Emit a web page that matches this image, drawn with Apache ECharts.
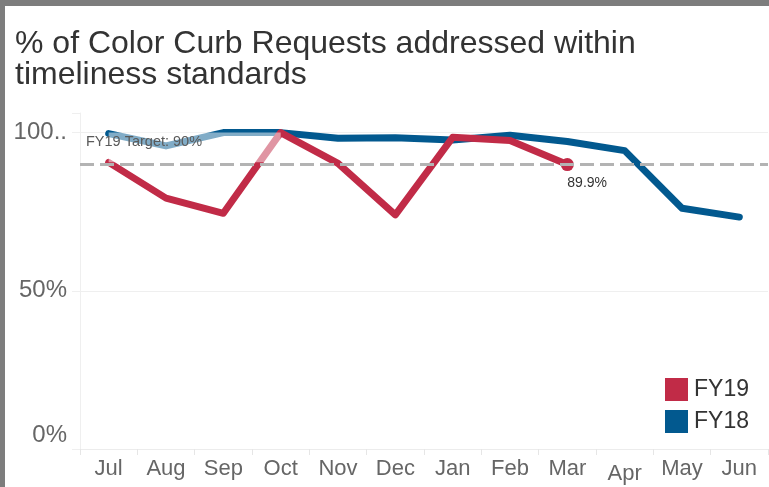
<!DOCTYPE html>
<html><head><meta charset="utf-8">
<script src="https://cdn.jsdelivr.net/npm/echarts@6/dist/echarts.min.js"></script>
<style>html,body{margin:0;padding:0;background:#fff}#c{width:769px;height:487px}</style>
</head><body><div id="c"></div>
<script>
const titleText = '% of Color Curb Requests addressed within\ntimeliness standards';
const months = ['Jul','Aug','Sep','Oct','Nov','Dec','Jan','Feb','Mar','Apr','May','Jun'];
const fy18 = [99.7, 95.8, 100, 100, 98.2, 98.4, 97.7, 99.2, 97.2, 94.3, 76.1, 73.3];
const fy19 = [90.6, 79.3, 74.5, 100, 90.3, 74.0, 98.5, 97.5, 89.9];
const yTickLabels = {0: '0%', 50: '50%', 100: '100..'};
const targetValue = 90;
const targetLabel = 'FY19 Target: 90%';

const FONT = '"Liberation Sans", Arial, sans-serif';
const RED = '#C12B47', BLUE = '#02598F';

const fy19Data = fy19.map((v, i) => i === fy19.length - 1 ? {
  value: v, symbol: 'circle', symbolSize: 13,
  label: {show: true, position: 'bottom', align: 'left', offset: [0, 1], distance: 4,
    formatter: '{c}%', color: '#333', fontSize: 14, fontFamily: FONT}
} : v);

const chart = echarts.init(document.getElementById('c'), null, {renderer: 'canvas'});
chart.setOption({
  animation: false,
  backgroundColor: '#fff',
  title: {text: titleText, left: 10, top: 24,
    textStyle: {fontFamily: FONT, fontSize: 32, fontWeight: 'normal', color: '#333', lineHeight: 31}},
  graphic: [
    {type: 'rect', shape: {x: 0, y: 0, width: 769, height: 6}, style: {fill: '#7d7d7d'}, z: 100},
    {type: 'rect', shape: {x: 0, y: 0, width: 5, height: 487}, style: {fill: '#7d7d7d'}, z: 100}
  ],
  legend: {data: ['FY19', 'FY18'], orient: 'vertical', left: 665, top: 378, icon: 'rect',
    itemWidth: 23, itemHeight: 23, itemGap: 9, padding: 0,
    textStyle: {fontFamily: FONT, fontSize: 23, color: '#333', padding: [0, 0, 0, 1]}},
  grid: {left: 80, right: 1, top: 113, bottom: 38, containLabel: false},
  xAxis: {type: 'category', data: months, boundaryGap: true,
    axisLine: {show: true, lineStyle: {color: '#ececec', width: 1}},
    axisTick: {show: true, alignWithLabel: false, interval: 0, length: 6, lineStyle: {color: '#e6e6e6'}},
    axisLabel: {interval: 0, fontFamily: FONT, fontSize: 22, color: '#666', margin: 9,
      formatter: v => v === 'Apr' ? '{low|' + v + '}' : v,
      rich: {low: {fontFamily: FONT, fontSize: 22, color: '#666', padding: [5, 0, 0, 0]}}},
    splitLine: {show: false}},
  yAxis: {type: 'value', min: 0, max: 106.2, interval: 50,
    axisLine: {show: true, lineStyle: {color: '#efefef'}},
    axisTick: {show: true, inside: false, length: 8, lineStyle: {color: '#efefef'}},
    axisLabel: {fontFamily: FONT, fontSize: 24, color: '#666', margin: 13,
      formatter: v => v === 0 ? '{z|0%}' : (yTickLabels[v] !== undefined ? yTickLabels[v] : ''),
      rich: {z: {fontFamily: FONT, fontSize: 24, color: '#666', padding: [0, 0, 28, 0]}}},
    splitLine: {show: true, lineStyle: {color: ['#ececec', '#efefef', '#efefef', 'rgba(0,0,0,0)'], width: 1}}},
  series: [
    {name: 'FY18', type: 'line', data: fy18, color: BLUE, symbol: 'none', clip: false, z: 2,
      lineStyle: {width: 7, cap: 'round', join: 'round'}},
    {name: 'FY19', type: 'line', data: fy19Data, color: RED, symbol: 'none', clip: false, z: 3,
      lineStyle: {width: 7, cap: 'round', join: 'round'},
      markArea: {silent: true, z: 20, itemStyle: {color: 'rgba(255,255,255,0.5)'},
        data: [[{xAxis: 'Jul', yAxis: 100}, {xAxis: 'Oct', yAxis: 90.6}]]}},
    {name: 'target', type: 'line', data: [], z: 5, silent: true,
      markLine: {silent: true, symbol: 'none', z: 30,
        lineStyle: {type: [14, 6], color: '#b3b3b3', width: 3},
        label: {show: true, position: 'insideStartTop', distance: [6, 15], formatter: targetLabel,
          fontFamily: FONT, fontSize: 14.5, color: '#5a5a5a'},
        data: [{yAxis: targetValue}]}}
  ]
});
</script></body></html>
